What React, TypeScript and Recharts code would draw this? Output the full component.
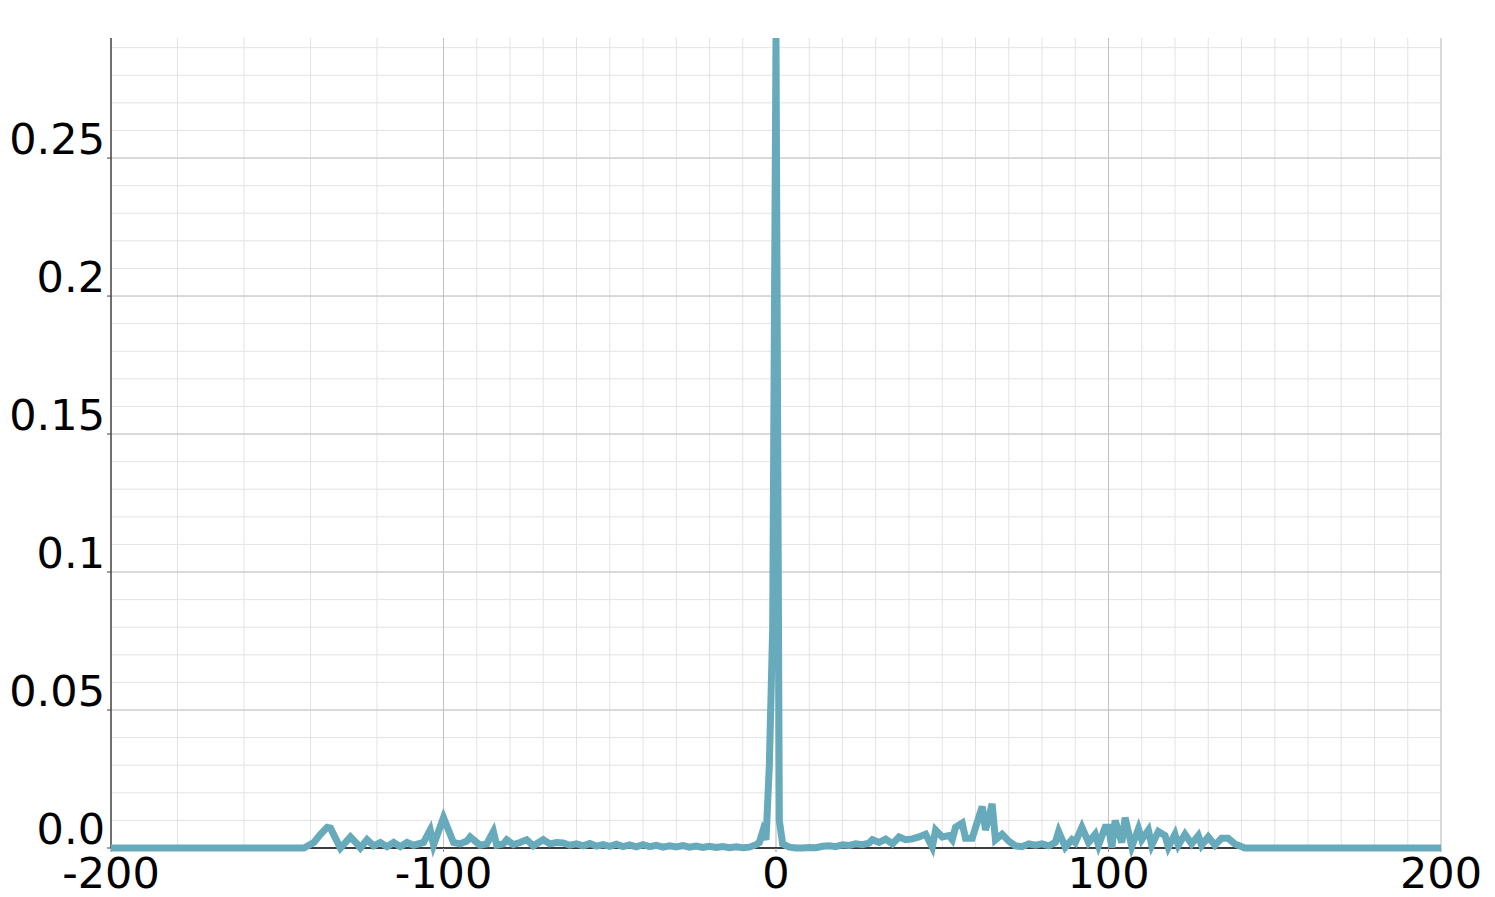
import { CartesianGrid, Line, LineChart, XAxis, YAxis } from 'recharts'

// lag positions (x) and their values (y)
const lags = [
  -200, -142, -139, -137, -135, -134, -131, -128, -126, -125, -123, -121, -119, -117, -115, -113, -111, -109,
  -106, -104, -103, -100, -97, -95, -93, -92, -89, -87, -85, -84, -82, -81, -79, -77, -75, -73, -70, -68, -66,
  -64, -62, -60, -58, -56, -54, -52, -50, -48, -46, -44, -42, -40, -38, -36, -34, -32, -30, -28, -26, -24, -22,
  -20, -18, -16, -14, -12, -10, -8, -6, -5, -4, -3, -2, -1, 0, 1, 2, 4, 6, 8, 10, 12, 14, 16, 18, 20, 22, 24,
  26, 28, 29, 31, 33, 35, 37, 39, 41, 43, 45, 47, 48, 50, 52, 53, 54, 56, 57, 59, 62, 63, 65, 66, 68, 70, 72,
  74, 76, 78, 80, 82, 84, 85, 87, 89, 90, 92, 94, 96, 97, 99, 100, 101, 102, 104, 105, 107, 109, 110, 112, 113,
  115, 117, 118, 120, 121, 123, 125, 127, 128, 130, 132, 134, 136, 138, 141, 200,
]

// the lag-0 spike runs off the top of the plot; it is drawn up to the top edge
const values = [
  0, 0, 0.002, 0.005, 0.0075, 0.0072, 0, 0.004, 0.0015, 0, 0.003, 0.0008, 0.002, 0.0005, 0.002, 0.0005, 0.002,
  0.001, 0.002, 0.0065, 0.001, 0.011, 0.002, 0.0015, 0.0025, 0.004, 0.001, 0.0015, 0.006, 0.001, 0.0015, 0.003,
  0.0012, 0.002, 0.003, 0.0008, 0.003, 0.0015, 0.002, 0.0018, 0.001, 0.0015, 0.0008, 0.0016, 0.0007, 0.0012,
  0.0006, 0.0014, 0.0005, 0.0011, 0.0004, 0.0012, 0.0005, 0.001, 0.0003, 0.0008, 0.0004, 0.0009, 0.0003, 0.0007,
  0.0002, 0.0006, 0.0002, 0.0005, 0.0001, 0.0004, 0.0001, 0.0003, 0.0012, 0.002, 0.006, 0.003, 0.03, 0.08, 0.2935,
  0.01, 0.0015, 0.0003, 0, 0, 0.0002, 0.0001, 0.0006, 0.0008, 0.0005, 0.0012, 0.0009, 0.0015, 0.0012, 0.0018,
  0.003, 0.002, 0.0032, 0.0015, 0.004, 0.003, 0.0033, 0.004, 0.005, 0.0003, 0.0065, 0.004, 0.0045, 0.003, 0.0075,
  0.009, 0.0035, 0.0035, 0.015, 0.0065, 0.016, 0.003, 0.005, 0.0025, 0.0008, 0.0005, 0.0015, 0.001, 0.0015,
  0.0008, 0.002, 0.006, 0.0003, 0.003, 0.002, 0.0075, 0.002, 0.005, 0.001, 0.0075, 0.0075, 0.0002, 0.01, 0.002,
  0.011, 0.0005, 0.007, 0.003, 0.0065, 0.001, 0.006, 0.0045, 0.0003, 0.005, 0.001, 0.005, 0.0015, 0.0045, 0.001,
  0.004, 0.001, 0.0035, 0.0035, 0.0015, 0, 0,
]

const xTicks = [-200, -100, 0, 100, 200]
const yTicks = [0, 0.05, 0.1, 0.15, 0.2, 0.25]
const yTickLabels = ['0.0', '0.05', '0.1', '0.15', '0.2', '0.25']
const yMax = 0.2935

const data = lags.map((x, i) => ({ x, y: values[i] }))

// grid lines
const minorX = Array.from({ length: 41 }, (_, i) => -200 + i * 10)
const minorY = Array.from({ length: 59 }, (_, i) => Math.round(i * 5) / 1000)
const majorX = [-100, 0, 100, 200]
const majorY = [0.05, 0.1, 0.15, 0.2, 0.25]

const font = '"DejaVu Sans", Verdana, sans-serif'

function XTick(props: any) {
  const { x, y, payload } = props
  return (
    <text x={x} y={y + 36} textAnchor="middle" fill="#000" fontSize={43} fontFamily={font}>
      {payload.value}
    </text>
  )
}

function YTick(props: any) {
  const { x, y, payload } = props
  const idx = yTicks.indexOf(payload.value)
  return (
    <text x={x + 2} y={y - 4} textAnchor="end" fill="#000" fontSize={43} fontFamily={font}>
      {idx >= 0 ? yTickLabels[idx] : payload.value}
    </text>
  )
}

export default function App() {
  const lineProps: any = { zIndex: 800 }
  return (
    <div style={{ position: 'absolute', left: 0, top: 0, width: 1495, height: 897, background: '#fff' }}>
      <LineChart width={1495} height={897} data={data} margin={{ top: 38, right: 54, left: 0, bottom: 0 }}>
        <CartesianGrid stroke="#e3e3e3" strokeWidth={1} horizontalValues={minorY} verticalValues={minorX} />
        <CartesianGrid stroke="#c2c2c2" strokeWidth={1} horizontalValues={majorY} verticalValues={majorX} />
        <XAxis
          dataKey="x"
          type="number"
          domain={[-200, 200]}
          ticks={xTicks}
          height={49}
          tickSize={4}
          tickMargin={0}
          axisLine={{ stroke: '#000', strokeWidth: 1.5 }}
          tickLine={{ stroke: '#999' }}
          tick={<XTick />}
        />
        <YAxis
          type="number"
          domain={[0, yMax]}
          ticks={yTicks}
          width={111}
          tickSize={4}
          tickMargin={4}
          axisLine={{ stroke: '#444', strokeWidth: 1.5 }}
          tickLine={{ stroke: '#444' }}
          tick={<YTick />}
        />
        <Line
          {...lineProps}
          dataKey="y"
          type="linear"
          stroke="#67aabb"
          strokeWidth={7}
          dot={false}
          activeDot={false}
          isAnimationActive={false}
        />
      </LineChart>
    </div>
  )
}
